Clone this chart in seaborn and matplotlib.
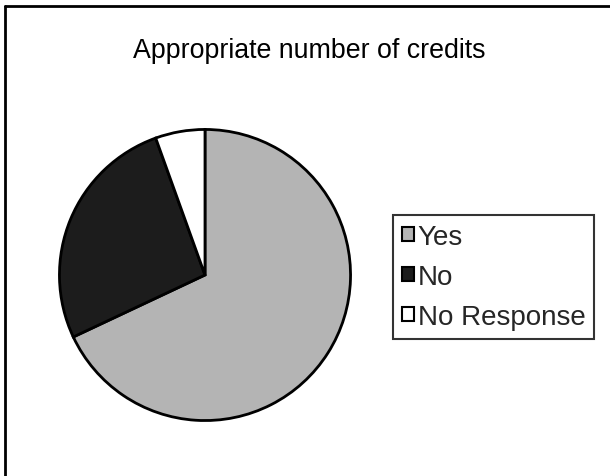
import matplotlib
matplotlib.use("Agg")
import matplotlib.pyplot as plt
import seaborn as sns
from matplotlib.lines import Line2D
from matplotlib.patches import Patch

categories = ["Yes", "No", "No Response"]
values = [68.0, 26.5, 5.5]
title = "Appropriate number of credits"

sns.set_theme(style="white")
plt.rcParams['font.family'] = ['Liberation Sans', 'DejaVu Sans']

colors = ["#b4b4b4", "#1c1c1c", "#ffffff"]

W, H = 610, 477
fig = plt.figure(figsize=(W / 100, H / 100), dpi=100)
fig.patch.set_facecolor("white")

cx, cy, r = 205, 276, 147
ax = fig.add_axes([(cx - r) / W, (H - cy - r) / H, 2 * r / W, 2 * r / H])
wedges, _ = ax.pie(values, colors=colors, startangle=90, counterclock=False,
                   wedgeprops=dict(edgecolor="black", linewidth=2.0))
ax.set_xlim(-1.01, 1.01)
ax.set_ylim(-1.01, 1.01)
ax.set_aspect("auto")
ax.axis("off")

fig.text(309 / W, 1 - 51 / H, title, ha="center", va="center", fontsize=19.3, color="black")

# outer chart frame (top and left edges visible)
fig.add_artist(Line2D([4.5 / W, 4.5 / W], [0, 1 - 7 / H], transform=fig.transFigure,
                      color="black", linewidth=2))
fig.add_artist(Line2D([4.5 / W, 1], [1 - 7 / H, 1 - 7 / H], transform=fig.transFigure,
                      color="black", linewidth=2))

handles = [Patch(facecolor=c, edgecolor="black", linewidth=1.5) for c in colors]
leg = fig.legend(handles, categories, loc="upper left",
                 bbox_to_anchor=(393 / W, 1 - 216 / H), fontsize=20,
                 frameon=True, fancybox=False, shadow=False,
                 handlelength=0.42, handleheight=0.42, handletextpad=0.15,
                 labelspacing=0.5, borderpad=0.32, borderaxespad=0)
leg.get_frame().set_edgecolor("black")
leg.get_frame().set_linewidth(1.5)

fig.savefig("out.png", dpi=100, facecolor="white")
